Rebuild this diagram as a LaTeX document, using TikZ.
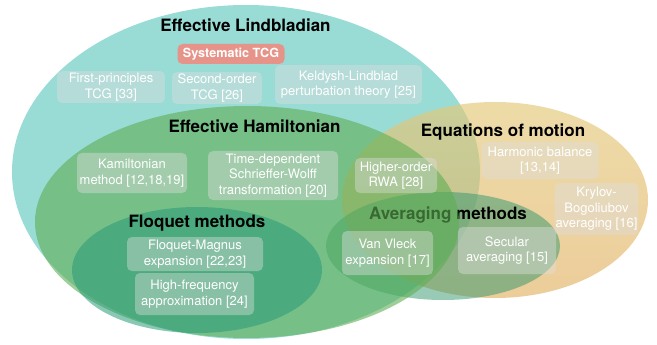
\documentclass[tikz,border=0pt]{standalone}
\usepackage{fontspec}
\setmainfont{TeX Gyre Heros}
\usepackage{tikz}
\definecolor{lindbladTeal}{RGB}{85,195,185}
\definecolor{eomYellow}{RGB}{228,200,120}
\definecolor{eomOrange}{RGB}{226,178,100}
\definecolor{hamGreen}{RGB}{95,175,85}
\definecolor{floquetGreen}{RGB}{40,155,120}
\definecolor{avgGreen}{RGB}{50,150,110}
\definecolor{tcgRed}{RGB}{230,148,138}
\definecolor{boxGrey}{RGB}{222,222,222}

\begin{document}
\begin{tikzpicture}[
  x=1pt, y=-1pt,
  region/.style={fill opacity=0.6},
  heading/.style={font=\fontsize{17}{20}\selectfont\bfseries, text=black},
  refbox/.style={fill=boxGrey, fill opacity=0.42, text opacity=1, text=white, rounded corners=5pt,
    align=center, inner sep=1pt, font=\fontsize{13}{15.5}\selectfont},
  tcgbox/.style={fill=tcgRed, rounded corners=5pt, text=white, inner sep=1pt,
    font=\fontsize{12.6}{15}\selectfont\bfseries}
]
\useasboundingbox (0,0) rectangle (657,345);

% sets, back to front
\fill[region, lindbladTeal] (246,172) ellipse [x radius=234pt, y radius=167pt];
\shade[top color=eomYellow, bottom color=eomOrange, opacity=0.65] (495,200) ellipse [x radius=153pt, y radius=98pt];
\fill[region, avgGreen, fill opacity=0.5] (443,246) ellipse [x radius=117pt, y radius=54pt];
\node[heading] (avgTitle) at (448,215) {Averaging methods};
\fill[region, hamGreen] (247,222) ellipse [x radius=212pt, y radius=116pt];
\fill[region, floquetGreen, fill opacity=0.55] (197,270) ellipse [x radius=125pt, y radius=63pt];

% headings
\node[heading] (lindTitle) at (245.5,25) {Effective Lindbladian};
\node[heading] (hamTitle) at (254.5,126) {Effective Hamiltonian};
\node[heading] (eomTitle) at (503,132) {Equations of motion};
\node[heading] (floqTitle) at (197,223) {Floquet methods};

% method boxes
\node[tcgbox, minimum width=107pt, minimum height=20pt] (sysTCG) at (231,54) {Systematic TCG};
\node[refbox, minimum width=108pt, minimum height=32pt] (firstTCG) at (111,87) {First-principles\\TCG [33]};
\node[refbox, minimum width=90pt, minimum height=32pt] (secondTCG) at (217,88) {Second-order\\TCG [26]};
\node[refbox, minimum width=147pt, minimum height=39pt] (keldysh) at (348.5,84.5) {Keldysh-Lindblad\\perturbation theory [25]};
\node[refbox, minimum width=110pt, minimum height=40pt] (kamilton) at (132,173) {Kamiltonian\\method [12,18,19]};
\node[refbox, minimum width=130pt, minimum height=49pt] (tdsw) at (273,175.5) {Time-dependent\\Schrieffer-Wolff\\transformation [20]};
\node[refbox, minimum width=82pt, minimum height=35pt] (rwa) at (396,175.5) {Higher-order\\RWA [28]};
\node[refbox, minimum width=117pt, minimum height=37pt] (harmonic) at (540,160.5) {Harmonic balance\\{}[13,14]};
\node[refbox, minimum width=83pt, minimum height=52pt] (krylov) at (596.5,209) {Krylov-\\Bogoliubov\\averaging [16]};
\node[refbox, minimum width=136pt, minimum height=34pt] (magnus) at (195,254) {Floquet-Magnus\\expansion [22,23]};
\node[refbox, minimum width=119pt, minimum height=42pt] (highfreq) at (194.5,294) {High-frequency\\approximation [24]};
\node[refbox, minimum width=91pt, minimum height=44pt] (vanvleck) at (387.5,253) {Van Vleck\\expansion [17]};
\node[refbox, minimum width=98pt, minimum height=47pt] (secular) at (507,250.5) {Secular\\averaging [15]};
\end{tikzpicture}
\end{document}
